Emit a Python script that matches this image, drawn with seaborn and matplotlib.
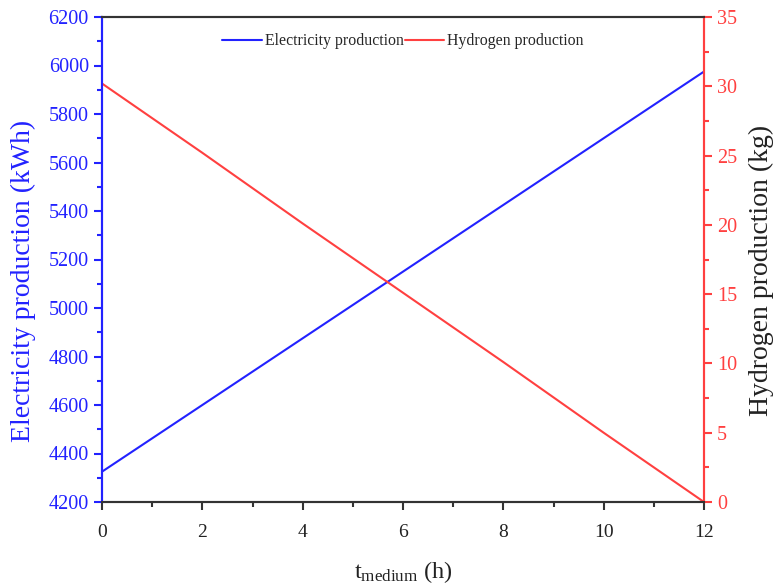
import matplotlib
matplotlib.use("Agg")
import matplotlib.pyplot as plt
import seaborn as sns
import pandas as pd
from matplotlib.ticker import MultipleLocator

t_medium = [0, 2, 4, 6, 8, 10, 12]
electricity = [4325, 4600, 4875, 5150, 5425, 5700, 5975]
hydrogen = [30.2, 25.2, 20.1, 15.1, 10.1, 5.0, 0.0]

df = pd.DataFrame({"t": t_medium, "elec": electricity, "h2": hydrogen})

sns.set_style("ticks")
plt.rcParams['font.family'] = ['Liberation Serif', 'DejaVu Serif']
plt.rcParams['mathtext.fontset'] = 'custom'
plt.rcParams['mathtext.rm'] = 'Liberation Serif'
plt.rcParams['mathtext.it'] = 'Liberation Serif'

BLUE = "#2222FF"
RED = "#FF4040"
DARK = "#333333"

fig = plt.figure(figsize=(7.75, 5.85), dpi=100)
ax = fig.add_axes([102/775, 1-502/585, (704-102)/775, (502-17)/585])
ax2 = ax.twinx()

sns.lineplot(data=df, x="t", y="elec", ax=ax, color=BLUE, lw=1.5, label="Electricity production", legend=False)
sns.lineplot(data=df, x="t", y="h2", ax=ax2, color=RED, lw=1.5, label="Hydrogen production", legend=False)

ax.set_xlim(0, 12)
ax.set_ylim(4200, 6200)
ax2.set_ylim(0, 35)
ax.xaxis.set_major_locator(MultipleLocator(2))
ax.xaxis.set_minor_locator(MultipleLocator(1))
ax.yaxis.set_major_locator(MultipleLocator(200))
ax.yaxis.set_minor_locator(MultipleLocator(100))
ax2.yaxis.set_major_locator(MultipleLocator(5))
ax2.yaxis.set_minor_locator(MultipleLocator(2.5))

for a in (ax, ax2):
    for s in a.spines.values():
        s.set_linewidth(1.5)
        s.set_color(DARK)
ax2.spines['left'].set_color(BLUE)
ax2.spines['right'].set_color(RED)
ax.spines['left'].set_color(BLUE)
ax.spines['right'].set_color(RED)

ax.tick_params(axis='x', which='major', direction='out', length=6, width=1.5, color=DARK, labelsize=14, labelcolor='#222222', pad=10)
ax.tick_params(axis='x', which='minor', direction='out', length=3.5, width=1.5, color=DARK)
ax.tick_params(axis='y', which='major', direction='out', length=6, width=1.5, color=BLUE, labelsize=14.5, labelcolor=BLUE)
ax.tick_params(axis='y', which='minor', direction='out', length=3.5, width=1.5, color=BLUE)
ax2.tick_params(axis='y', which='major', direction='out', length=6, width=1.5, color=RED, labelsize=14.5, labelcolor=RED)
ax2.tick_params(axis='y', which='minor', direction='out', length=3.5, width=1.5, color=RED)

ax.set_xlabel(r"t$_{\mathrm{medium}}$ (h)", fontsize=17.5, color='#222222', va='center')
ax.xaxis.set_label_coords(0.5, -0.145)
ax.set_ylabel("Electricity production (kWh)", fontsize=20, color=BLUE, va='center')
ax.yaxis.set_label_coords(-0.13, 0.456)
ax2.set_ylabel("Hydrogen production (kg)", fontsize=20, color='#222222', va='center')
ax2.yaxis.set_label_coords(1.095, 0.478)

h1, l1 = ax.get_legend_handles_labels()
h2, l2 = ax2.get_legend_handles_labels()
ax.legend(h1 + h2, l1 + l2, loc='upper center', bbox_to_anchor=(0.5, 0.996), ncol=2, frameon=False,
          fontsize=11.4, handlelength=2.5, handletextpad=0.2, columnspacing=0.05)

fig.savefig("out.png", dpi=100)
